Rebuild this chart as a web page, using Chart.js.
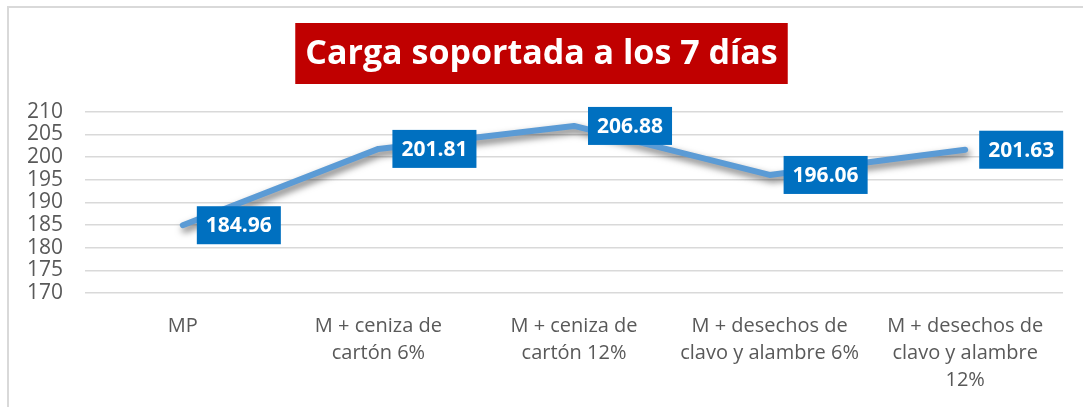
<!DOCTYPE html>
<html>
<head>
<meta charset="utf-8">
<script src="https://cdn.jsdelivr.net/npm/chart.js@4"></script>
<style>
  html, body { margin: 0; padding: 0; background: #fff; }
  #wrap { position: relative; width: 1083px; height: 407px; }
</style>
</head>
<body>
<div id="wrap"><canvas id="cargaChart"></canvas></div>
<script>
const categories = [
    'MP',
    ['M + ceniza de', 'cartón 6%'],
    ['M + ceniza de', 'cartón 12%'],
    ['M + desechos de', 'clavo y alambre 6%'],
    ['M + desechos de', 'clavo y alambre', '12%']
];
const carga = [184.96, 201.81, 206.88, 196.06, 201.63];
const titleText = 'Carga soportada a los 7 días';
const titleFont = 'bold 34px "Open Sans"';

// frame lines like the Excel chart border
const framePlugin = {
    id: 'frame',
    beforeDraw(chart) {
        const c = chart.ctx;
        c.save();
        c.strokeStyle = '#D9D9D9';
        c.lineWidth = 2;
        c.beginPath();
        c.moveTo(8, chart.height);
        c.lineTo(8, 7);
        c.lineTo(chart.width, 7);
        c.stroke();
        c.restore();
    }
};

// red box with the title text, centred on the whole canvas
// (chart.js title stays on, transparent, only to reserve the space)
const titleBoxPlugin = {
    id: 'titleBox',
    afterDraw(chart) {
        const c = chart.ctx;
        c.save();
        c.font = titleFont;
        const w = c.measureText(titleText).width;
        const cx = chart.width / 2;
        c.fillStyle = '#C00000';
        c.fillRect(cx - w / 2 - 10, 23, w + 20, 61);
        c.fillStyle = '#FFFFFF';
        c.textAlign = 'center';
        c.textBaseline = 'middle';
        c.fillText(titleText, cx, 54);
        c.restore();
    }
};

// soft shadow under the line
const shadowPlugin = {
    id: 'lineShadow',
    beforeDatasetDraw(chart) {
        const c = chart.ctx;
        c.save();
        c.shadowColor = 'rgba(0,0,0,0.55)';
        c.shadowBlur = 7;
        c.shadowOffsetX = 2;
        c.shadowOffsetY = 4;
    },
    afterDatasetDraw(chart) {
        chart.ctx.restore();
    }
};

// blue value boxes to the right of each point
const valueLabels = {
    id: 'valueLabels',
    afterDatasetsDraw(chart) {
        const c = chart.ctx;
        const meta = chart.getDatasetMeta(0);
        c.save();
        c.font = 'bold 21px "Open Sans"';
        c.textBaseline = 'middle';
        c.textAlign = 'left';
        meta.data.forEach((pt, i) => {
            const txt = carga[i].toFixed(2);
            const w = c.measureText(txt).width + 18;
            const x = pt.x + 14;
            const y = pt.y - 19;
            c.fillStyle = '#0070C0';
            c.fillRect(x, y, w, 38);
            c.fillStyle = '#FFFFFF';
            c.fillText(txt, x + 9, pt.y + 1);
        });
        c.restore();
    }
};

const ctx = document.getElementById('cargaChart').getContext('2d');
const cargaChart = new Chart(ctx, {
    type: 'line',
    data: {
        labels: categories,
        datasets: [{
            label: 'Carga',
            data: carga,
            borderColor: '#5B9BD5',
            borderWidth: 6,
            borderCapStyle: 'round',
            borderJoinStyle: 'round',
            pointRadius: 0,
            tension: 0,
            fill: false
        }]
    },
    options: {
        responsive: true,
        maintainAspectRatio: false,
        animation: false,
        layout: {
            padding: { left: 5, right: 20, top: 0, bottom: -7 }
        },
        plugins: {
            legend: { display: false },
            tooltip: { enabled: false },
            title: {
                display: true,
                text: titleText,
                color: 'rgba(0,0,0,0)',
                font: { family: 'Open Sans', size: 34, weight: 'bold', lineHeight: 1.2 },
                padding: { top: 34, bottom: 37 }
            }
        },
        scales: {
            x: {
                offset: true,
                grid: { display: false, drawTicks: false },
                border: { display: false },
                ticks: {
                    color: '#595959',
                    font: { family: 'Open Sans', size: 20, lineHeight: 1.35 },
                    padding: 20,
                    maxRotation: 0,
                    autoSkip: false
                }
            },
            y: {
                min: 170,
                max: 210,
                grid: { color: '#D9D9D9', lineWidth: 1.5, drawTicks: false },
                border: { display: false },
                ticks: {
                    stepSize: 5,
                    autoSkip: false,
                    color: '#595959',
                    font: { family: 'Open Sans', size: 21, lineHeight: 1.0 },
                    padding: 22
                }
            }
        }
    },
    plugins: [framePlugin, titleBoxPlugin, shadowPlugin, valueLabels]
});
</script>
</body>
</html>
